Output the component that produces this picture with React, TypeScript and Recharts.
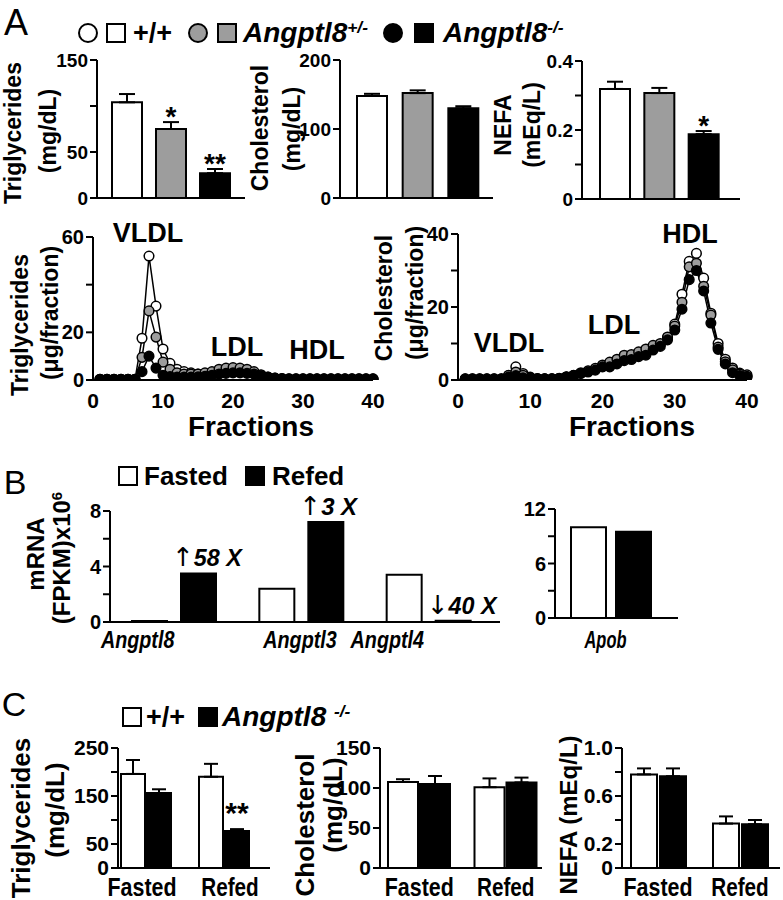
import React from 'react';
import { BarChart, Bar, Cell, XAxis, YAxis, ErrorBar, LineChart, Line, LabelList } from 'recharts';

const FONT = "'Liberation Sans', Arial, Helvetica, sans-serif";

// ---- Panel A: plasma lipids by genotype ----
const genotypes = ['+/+', 'Angptl8+/-', 'Angptl8-/-'];
const genotypeFill = ['#ffffff', '#9d9d9d', '#000000'];
const plasmaTg = [104, 75, 27];
const plasmaTgSem = [9, 7.5, 4.5];
const plasmaTgSig = ['', '*', '**'];
const plasmaTgTicks = [0, 50, 100, 150];
const plasmaTgTickLabels = ['0', '50', '', '150'];
const plasmaChol = [148, 152, 130];
const plasmaCholSem = [3, 4, 3];
const plasmaCholSig = ['', '', ''];
const plasmaCholTicks = [0, 100, 200];
const plasmaCholTickLabels = ['0', '100', '200'];
const plasmaNefa = [0.319, 0.307, 0.188];
const plasmaNefaSem = [0.021, 0.015, 0.009];
const plasmaNefaSig = ['', '', '*'];
const plasmaNefaTicks = [0, 0.1, 0.2, 0.3, 0.4];
const plasmaNefaTickLabels = ['0', '', '0.2', '', '0.4'];

// ---- Panel A: FPLC fractions ----
const fractions = [1, 2, 3, 4, 5, 6, 7, 8, 9, 10, 11, 12, 13, 14, 15, 16, 17, 18, 19, 20,
  21, 22, 23, 24, 25, 26, 27, 28, 29, 30, 31, 32, 33, 34, 35, 36, 37, 38, 39, 40];
const fracTgWt = [0.3, 0.3, 0.3, 0.3, 0.3, 0.3, 17.5, 52, 31, 13, 7, 4.5, 3.5, 3, 2.5, 2.5, 3, 3.5, 4, 4,
  4, 3.5, 3, 2, 1.2, 0.8, 0.6, 0.5, 0.5, 0.5, 0.5, 0.5, 0.5, 0.5, 0.5, 0.5, 0.5, 0.5, 0.5, 0.5];
const fracTgHet = [0.3, 0.3, 0.3, 0.3, 0.3, 0.3, 9.5, 29, 18, 7.5, 4.5, 3, 2.5, 2.5, 2.5, 3, 3.5, 4.5, 5, 5.2,
  5, 4.5, 3.5, 2.2, 1.2, 0.8, 0.6, 0.5, 0.5, 0.5, 0.5, 0.5, 0.5, 0.5, 0.5, 0.5, 0.5, 0.5, 0.5, 0.5];
const fracTgKo = [0.2, 0.2, 0.2, 0.2, 0.2, 0.2, 3.5, 10, 5, 2, 1.5, 1.2, 1.2, 1.2, 1.3, 1.6, 2, 2.5, 2.8, 3,
  3, 2.8, 2.5, 1.8, 1, 0.5, 0.4, 0.3, 0.3, 0.3, 0.3, 0.3, 0.3, 0.3, 0.3, 0.3, 0.3, 0.3, 0.3, 0.3];
const fracTgTicks = [0, 20, 40, 60];
const fracTgTickLabels = ['0', '20', '', '60'];
const fracCholWt = [0.3, 0.3, 0.3, 0.3, 0.3, 0.3, 1.2, 3.6, 1.8, 0.8, 0.4, 0.3, 0.3, 0.4, 0.8, 1.2, 1.8, 2.4, 3, 3.8,
  4.5, 5.2, 6, 6.5, 7.2, 7.8, 8.8, 9.8, 11.6, 15.3, 23.5, 32.5, 34.7, 27.9, 18.3, 10, 5.7, 3.3, 1.9, 1.4];
const fracCholHet = [0.3, 0.3, 0.3, 0.3, 0.3, 0.3, 1.3, 2.2, 1.3, 0.6, 0.3, 0.3, 0.3, 0.5, 0.9, 1.3, 2, 2.5, 3.2, 4.1,
  4.9, 5.7, 6.8, 7, 7.7, 8.5, 9.5, 10, 11.8, 14.8, 21.3, 31, 32, 25.7, 17.8, 9, 5, 2.8, 1.6, 1];
const fracCholKo = [0.2, 0.2, 0.2, 0.2, 0.2, 0.2, 0.8, 1.2, 0.6, 0.4, 0.3, 0.3, 0.3, 0.4, 0.8, 1.2, 1.8, 2.2, 2.7, 3.6,
  3.6, 4.4, 5.3, 5.6, 6.4, 6.8, 8.2, 9.2, 11, 13.7, 19.4, 27.5, 30, 24.4, 15.6, 8.4, 4.4, 2, 1.2, 0.8];
const fracCholTicks = [0, 10, 20, 30, 40];
const fracCholTickLabels = ['0', '', '20', '', '40'];
const fracXTicks = [0, 10, 20, 30, 40];

// ---- Panel B: liver mRNA ----
const genes = ['Angptl8', 'Angptl3', 'Angptl4'];
const geneFasted = [0.08, 2.4, 3.4];
const geneRefed = [3.5, 7.2, 0.09];
const geneFold = ['↑58 X', '↑3 X', '↓40 X'];
const geneTicks = [0, 2, 4, 6, 8];
const geneTickLabels = ['0', '', '4', '', '8'];
const apobGene = ['Apob'];
const apobFasted = [10.0];
const apobRefed = [9.5];
const apobTicks = [0, 3, 6, 9, 12];
const apobTickLabels = ['0', '', '6', '', '12'];

// ---- Panel C: fasted / refed ----
const conditions = ['Fasted', 'Refed'];
const cTgWt = [196, 190];
const cTgWtSem = [29, 27];
const cTgKo = [156, 77];
const cTgKoSem = [8, 4];
const cTgKoSig = ['', '**'];
const cTgTicks = [0, 50, 100, 150, 200, 250];
const cTgTickLabels = ['0', '50', '', '150', '', '250'];
const cCholWt = [107.5, 101];
const cCholWtSem = [3.5, 11];
const cCholKo = [105, 107];
const cCholKoSem = [10, 6];
const cCholTicks = [0, 50, 100, 150];
const cCholTickLabels = ['0', '50', '100', '150'];
const cNefaWt = [0.78, 0.37];
const cNefaWtSem = [0.05, 0.06];
const cNefaKo = [0.765, 0.365];
const cNefaKoSem = [0.065, 0.035];
const cNefaTicks = [0, 0.2, 0.4, 0.6, 0.8, 1.0];
const cNefaTickLabels = ['0', '0.2', '', '0.6', '', '1.0'];

// layout helpers
const Y_W = 50;
const M_TOP = 30;
type Box = { axisX: number; endX: number; topY: number; baseY: number };

function frame(b: Box, xh: number, mr: number) {
  return {
    left: b.axisX - Y_W,
    top: b.topY - M_TOP,
    width: b.endX - b.axisX + Y_W + mr,
    height: b.baseY - b.topY + M_TOP + xh,
  };
}

const axisStroke = { stroke: '#000', strokeWidth: 2 };

const yAxisFor = (max: number, ticks: number[], labels: string[], size: number) => (
  <YAxis
    width={Y_W}
    domain={[0, max]}
    ticks={ticks}
    interval={0}
    allowDataOverflow
    tickFormatter={(v: number) => labels[ticks.indexOf(v)] ?? ''}
    axisLine={axisStroke}
    tickLine={axisStroke}
    tickSize={7}
    tickMargin={2}
    tick={{ fill: '#000', fontSize: size, fontWeight: 700, fontFamily: FONT }}
  />
);

const getXY = (p: any) => {
  const vb = p.viewBox || {};
  return {
    x: p.x ?? vb.x,
    y: p.y ?? vb.y,
    width: p.width ?? vb.width,
  };
};

// asterisks placed just above the error bar
const starContent = (sig: string[], sem: number[], pxPerUnit: number, gap: number, size: number) => (p: any) => {
  const s = sig[p.index];
  if (!s) return null;
  const { x, y, width } = getXY(p);
  const errTop = y - sem[p.index] * pxPerUnit;
  return (
    <text x={x + width / 2} y={errTop + 20 - gap} textAnchor="middle" fontSize={size} fontWeight={700} fontFamily={FONT} fill="#000">
      {s}
    </text>
  );
};

function GenoChart({ box, vals, sem, sig, max, ticks, labels, pad }: any) {
  const f = frame(box, 16, 6);
  const rows = genotypes.map((g, i) => ({ g, v: vals[i], e: [0, sem[i]] }));
  const ppu = (box.baseY - box.topY) / max;
  return (
    <div style={{ position: 'absolute', left: f.left, top: f.top }}>
      <BarChart width={f.width} height={f.height} data={rows} margin={{ top: M_TOP, right: 6, left: 0, bottom: 0 }}>
        <XAxis dataKey="g" tick={false} tickLine={false} axisLine={axisStroke} height={16} padding={pad} />
        {yAxisFor(max, ticks, labels, 19)}
        <Bar dataKey="v" barSize={30} stroke="#000" strokeWidth={2} isAnimationActive={false}>
          {rows.map((r, i) => <Cell key={r.g} fill={genotypeFill[i]} />)}
          <ErrorBar dataKey="e" width={8} stroke="#000" strokeWidth={2} direction="y" />
          <LabelList dataKey="v" content={starContent(sig, sem, ppu, 16, 28)} />
        </Bar>
      </BarChart>
    </div>
  );
}

function FracChart({ box, wt, het, ko, max, ticks, labels }: any) {
  const f = frame(box, 40, 24);
  const rows = fractions.map((fr, i) => ({ f: fr, wt: wt[i], het: het[i], ko: ko[i] }));
  const dot = (fill: string) => ({ r: 4.8, fill, stroke: '#000', strokeWidth: 1.5 });
  return (
    <div style={{ position: 'absolute', left: f.left, top: f.top }}>
      <LineChart width={f.width} height={f.height} data={rows} margin={{ top: M_TOP, right: 24, left: 0, bottom: 0 }}>
        <XAxis
          dataKey="f"
          type="number"
          domain={[0, 40]}
          ticks={fracXTicks}
          interval={0}
          tickLine={false}
          tickSize={0}
          tickMargin={13}
          axisLine={axisStroke}
          height={40}
          tick={{ fill: '#000', fontSize: 21, fontWeight: 700, fontFamily: FONT }}
        />
        {yAxisFor(max, ticks, labels, 20)}
        <Line dataKey="wt" stroke="#000" strokeWidth={1.5} dot={dot('#ffffff')} activeDot={false} isAnimationActive={false} />
        <Line dataKey="het" stroke="#000" strokeWidth={1.5} dot={dot('#9d9d9d')} activeDot={false} isAnimationActive={false} />
        <Line dataKey="ko" stroke="#000" strokeWidth={1.5} dot={dot('#000000')} activeDot={false} isAnimationActive={false} />
      </LineChart>
    </div>
  );
}

const foldContent = (p: any) => {
  const t = geneFold[p.index];
  if (!t) return null;
  const { x, y } = getXY(p);
  const rest = t.slice(1);
  return (
    <text x={x - 9} y={y - 7} fill="#000">
      <tspan fontSize={26} fontWeight={400} fontFamily="'DejaVu Sans', sans-serif">{t.charAt(0)}</tspan>
      <tspan fontSize={24} fontWeight={700} fontStyle="italic" fontFamily={FONT} textLength={rest.length * 12} lengthAdjust="spacingAndGlyphs">
        {rest}
      </tspan>
    </text>
  );
};

// category label, shifted by a per-category offset (the source figure does not centre them),
// squeezed to the narrow face used in the figure
const catTick = (style: any, shift?: number[]) => (p: any) => (
  <text
    x={p.x + (shift ? shift[p.index] || 0 : 0)}
    y={p.y}
    dy="0.71em"
    textAnchor="middle"
    fill="#000"
    fontFamily={FONT}
    fontSize={style.fontSize}
    fontWeight={style.fontWeight}
    fontStyle={style.fontStyle}
    textLength={String(p.payload.value).length * style.perChar}
    lengthAdjust="spacingAndGlyphs"
  >
    {p.payload.value}
  </text>
);

function PairChart({ box, cats, a, b, aSem, bSem, bSig, max, ticks, labels, barSize, barGap, pad, xh, tickMargin, catStyle, catShift, tickSizeY, fold }: any) {
  const f = frame(box, xh, 6);
  const rows = cats.map((c: string, i: number) => ({
    c,
    a: a[i],
    b: b[i],
    ae: aSem ? [0, aSem[i]] : [0, 0],
    be: bSem ? [0, bSem[i]] : [0, 0],
  }));
  const ppu = (box.baseY - box.topY) / max;
  return (
    <div style={{ position: 'absolute', left: f.left, top: f.top }}>
      <BarChart width={f.width} height={f.height} data={rows} barGap={barGap} margin={{ top: M_TOP, right: 6, left: 0, bottom: 0 }}>
        <XAxis
          dataKey="c"
          interval={0}
          tickLine={false}
          tickSize={0}
          tickMargin={tickMargin}
          axisLine={axisStroke}
          height={xh}
          padding={pad}
          tick={catTick(catStyle, catShift)}
        />
        {yAxisFor(max, ticks, labels, tickSizeY)}
        <Bar dataKey="a" barSize={barSize} fill="#ffffff" stroke="#000" strokeWidth={2} isAnimationActive={false}>
          {aSem && <ErrorBar dataKey="ae" width={7} stroke="#000" strokeWidth={2} direction="y" />}
        </Bar>
        <Bar dataKey="b" barSize={barSize} fill="#000000" stroke="#000" strokeWidth={2} isAnimationActive={false}>
          {bSem && <ErrorBar dataKey="be" width={7} stroke="#000" strokeWidth={2} direction="y" />}
          {bSig && <LabelList dataKey="b" content={starContent(bSig, bSem, ppu, 26, 30)} />}
          {fold && <LabelList dataKey="b" content={foldContent} />}
        </Bar>
      </BarChart>
    </div>
  );
}

function T({ x, y, size, children, rot, weight = 700, italic }: any) {
  return (
    <div
      style={{
        position: 'absolute',
        left: x,
        top: y,
        transform: `translate(-50%, -50%)${rot ? ' rotate(-90deg)' : ''}`,
        fontSize: size,
        fontWeight: weight,
        fontStyle: italic ? 'italic' : 'normal',
        fontFamily: FONT,
        lineHeight: 1,
        whiteSpace: 'nowrap',
        color: '#000',
      }}
    >
      {children}
    </div>
  );
}

function Swatch({ x, y, fill, round, size = 20 }: any) {
  return (
    <div
      style={{
        position: 'absolute',
        left: x,
        top: y - size / 2,
        width: size - 4,
        height: size - 4,
        border: '2px solid #000',
        borderRadius: round ? '50%' : 0,
        background: fill,
      }}
    />
  );
}

function L({ x, y, size, children, italic }: any) {
  return (
    <div
      style={{
        position: 'absolute',
        left: x,
        top: y,
        transform: 'translateY(-50%)',
        fontSize: size,
        fontWeight: 700,
        fontStyle: italic ? 'italic' : 'normal',
        fontFamily: FONT,
        lineHeight: 1,
        whiteSpace: 'nowrap',
      }}
    >
      {children}
    </div>
  );
}

const sup = (s: string) => <span style={{ fontSize: '0.62em', verticalAlign: '0.55em' }}>{s}</span>;

export default function App() {
  const catB = { fontSize: 24, fontWeight: 700, fontStyle: 'italic', perChar: 10.5 };
  const catC = { fontSize: 25, fontWeight: 700, perChar: 11.5 };
  return (
    <div style={{ position: 'absolute', left: 0, top: 0, width: 783, height: 900, background: '#fff', overflow: 'hidden' }}>
      {/* Panel A */}
      <T x={16} y={23} size={36} weight={400}>A</T>
      <Swatch x={78} y={33} fill="#fff" round />
      <Swatch x={106} y={33} fill="#fff" />
      <L x={133} y={33} size={27}>+/+</L>
      <Swatch x={188} y={33} fill="#9d9d9d" round />
      <Swatch x={217} y={33} fill="#9d9d9d" />
      <L x={243} y={33} size={28} italic>Angptl8{sup('+/-')}</L>
      <Swatch x={383} y={33} fill="#000" round />
      <Swatch x={414} y={33} fill="#000" />
      <L x={443} y={33} size={28} italic>Angptl8{sup('-/-')}</L>

      <T x={13} y={133} size={23} rot>Triglycerides</T>
      <T x={48} y={131} size={23} rot>(mg/dL)</T>
      <GenoChart box={{ axisX: 97, endX: 245, topY: 60, baseY: 198 }} vals={plasmaTg} sem={plasmaTgSem} sig={plasmaTgSig}
        max={150} ticks={plasmaTgTicks} labels={plasmaTgTickLabels} pad={{ left: 8, right: 8 }} />
      <T x={260} y={128} size={23} rot>Cholesterol</T>
      <T x={292} y={129} size={23} rot>(mg/dL)</T>
      <GenoChart box={{ axisX: 340, endX: 493, topY: 60, baseY: 198 }} vals={plasmaChol} sem={plasmaCholSem} sig={plasmaCholSig}
        max={200} ticks={plasmaCholTicks} labels={plasmaCholTickLabels} pad={{ left: 9, right: 7 }} />
      <T x={503} y={125} size={23} rot>NEFA</T>
      <T x={532} y={125} size={23} rot>(mEq/L)</T>
      <GenoChart box={{ axisX: 582, endX: 740, topY: 61, baseY: 199 }} vals={plasmaNefa} sem={plasmaNefaSem} sig={plasmaNefaSig}
        max={0.4} ticks={plasmaNefaTicks} labels={plasmaNefaTickLabels} pad={{ left: 11, right: 14 }} />

      <T x={20} y={325} size={23} rot>Triglycerides</T>
      <T x={50} y={313} size={23} rot>(μg/fraction)</T>
      <FracChart box={{ axisX: 93, endX: 373, topY: 237, baseY: 380 }} wt={fracTgWt} het={fracTgHet} ko={fracTgKo}
        max={60} ticks={fracTgTicks} labels={fracTgTickLabels} />
      <T x={148} y={233} size={27}>VLDL</T>
      <T x={237} y={347} size={27}>LDL</T>
      <T x={317} y={350} size={27}>HDL</T>
      <T x={251} y={427} size={28}>Fractions</T>

      <T x={384} y={298} size={23} rot>Cholesterol</T>
      <T x={415} y={293} size={23} rot>(μg/fraction)</T>
      <FracChart box={{ axisX: 458, endX: 747, topY: 234, baseY: 380 }} wt={fracCholWt} het={fracCholHet} ko={fracCholKo}
        max={40} ticks={fracCholTicks} labels={fracCholTickLabels} />
      <T x={509} y={343} size={27}>VLDL</T>
      <T x={614} y={325} size={27}>LDL</T>
      <T x={690} y={234} size={27}>HDL</T>
      <T x={632} y={427} size={28}>Fractions</T>

      {/* Panel B */}
      <T x={15} y={482} size={34} weight={400}>B</T>
      <Swatch x={118} y={476} fill="#fff" />
      <L x={144} y={476} size={26}>Fasted</L>
      <Swatch x={245} y={476} fill="#000" />
      <L x={272} y={476} size={26}>Refed</L>
      <T x={36} y={554} size={24} rot>mRNA</T>
      <T x={62} y={558} size={24} rot>(FPKM)x10{sup('6')}</T>
      <PairChart box={{ axisX: 110, endX: 500, topY: 511, baseY: 622 }} cats={genes} a={geneFasted} b={geneRefed}
        max={8} ticks={geneTicks} labels={geneTickLabels} barSize={35} barGap={14} pad={{ left: 0, right: 8 }}
        xh={40} tickMargin={9} catStyle={catB} catShift={[-36, -1, -41]} tickSizeY={20} fold />
      <PairChart box={{ axisX: 555, endX: 678, topY: 509, baseY: 618 }} cats={apobGene} a={apobFasted} b={apobRefed}
        max={12} ticks={apobTicks} labels={apobTickLabels} barSize={35} barGap={10} pad={{ left: 0, right: 12 }}
        xh={40} tickMargin={13} catStyle={catB} catShift={[-5]} tickSizeY={20} />

      {/* Panel C */}
      <T x={14} y={704} size={34} weight={400}>C</T>
      <Swatch x={122} y={717} fill="#fff" />
      <L x={146} y={717} size={27}>+/+</L>
      <Swatch x={198} y={717} fill="#000" />
      <L x={222} y={717} size={28} italic>Angptl8 {sup('-/-')}</L>

      <T x={21} y={818} size={26} rot>Triglycerides</T>
      <T x={55} y={810} size={26} rot>(mg/dL)</T>
      <PairChart box={{ axisX: 118, endX: 270, topY: 748, baseY: 868 }} cats={conditions} a={cTgWt} b={cTgKo}
        aSem={cTgWtSem} bSem={cTgKoSem} bSig={cTgKoSig}
        max={250} ticks={cTgTicks} labels={cTgTickLabels} barSize={24} barGap={2} pad={{ left: -11, right: 7 }}
        xh={40} tickMargin={10} catStyle={catC} catShift={[-4, 6]} tickSizeY={21} />
      <T x={305} y={825} size={26} rot>Cholesterol</T>
      <T x={333} y={805} size={26} rot>(mg/dL)</T>
      <PairChart box={{ axisX: 380, endX: 542, topY: 748, baseY: 868 }} cats={conditions} a={cCholWt} b={cCholKo}
        aSem={cCholWtSem} bSem={cCholKoSem}
        max={150} ticks={cCholTicks} labels={cCholTickLabels} barSize={30} barGap={2} pad={{ left: -4, right: -7 }}
        xh={40} tickMargin={10} catStyle={catC} tickSizeY={21} />
      <T x={569} y={815} size={24} rot>NEFA (mEq/L)</T>
      <PairChart box={{ axisX: 622, endX: 780, topY: 748, baseY: 868 }} cats={conditions} a={cNefaWt} b={cNefaKo}
        aSem={cNefaWtSem} bSem={cNefaKoSem}
        max={1} ticks={cNefaTicks} labels={cNefaTickLabels} barSize={26} barGap={3} pad={{ left: -5, right: -1 }}
        xh={40} tickMargin={10} catStyle={catC} tickSizeY={21} />
    </div>
  );
}
